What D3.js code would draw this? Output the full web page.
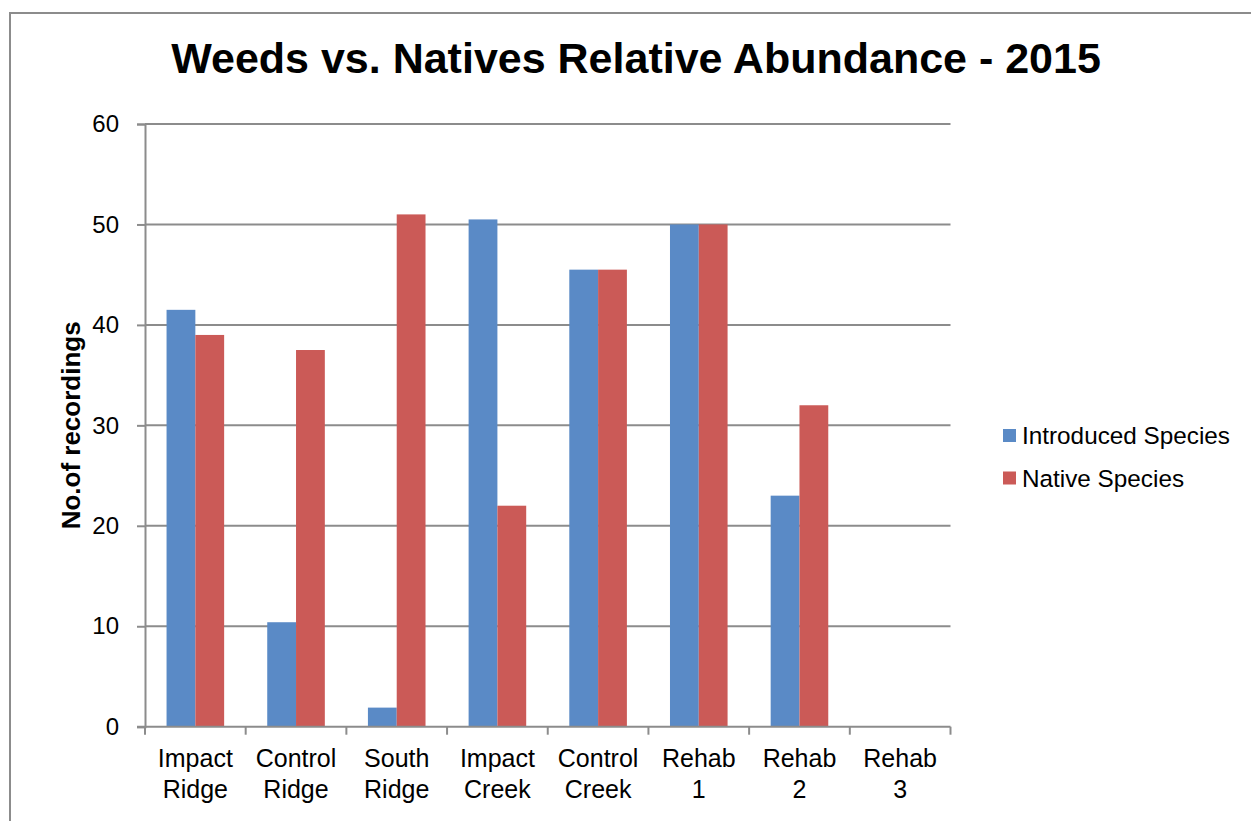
<!DOCTYPE html>
<html>
<head>
<meta charset="utf-8">
<script src="https://cdn.jsdelivr.net/npm/d3@7"></script>
<style>
  body { margin: 0; background: #fff; }
  svg { display: block; font-family: "Liberation Sans", Arial, sans-serif; }
</style>
</head>
<body>
<div id="chart"></div>
<script>
// data
var sites = ["Impact Ridge", "Control Ridge", "South Ridge", "Impact Creek", "Control Creek", "Rehab 1", "Rehab 2", "Rehab 3"];
var siteLines = [["Impact", "Ridge"], ["Control", "Ridge"], ["South", "Ridge"], ["Impact", "Creek"], ["Control", "Creek"], ["Rehab", "1"], ["Rehab", "2"], ["Rehab", "3"]];
var seriesNames = ["Introduced Species", "Native Species"];
var introduced = [41.5, 10.4, 1.9, 50.5, 45.5, 50, 23, 0];
var native = [39, 37.5, 51, 22, 45.5, 50, 32, 0];
var yTicks = [0, 10, 20, 30, 40, 50, 60];
var colors = ["#5a8ac6", "#cb5a57"];

var W = 1251, H = 821;
var margin = {left: 145, right: 300, top: 124, bottom: 94};
var FONT = "Liberation Sans, Arial, sans-serif";

var svg = d3.select("#chart").append("svg")
  .attr("width", W).attr("height", H);

// outer chart border (runs off right/bottom like the original crop)
svg.append("rect")
  .attr("x", 10).attr("y", 13)
  .attr("width", W + 20).attr("height", H + 20)
  .attr("fill", "#fff").attr("stroke", "#8c8c8c").attr("stroke-width", 2);

var plotL = margin.left, plotR = 950.5;
var x0 = d3.scaleBand().domain(sites).range([plotL, plotR]).paddingInner(0.428).paddingOuter(0.214);
var band = d3.scaleBand().domain(seriesNames).range([0, x0.bandwidth()]);
var y = d3.scaleLinear().domain([0, 60]).range([726.7, margin.top]);

// gridlines
svg.append("g").selectAll("line").data(yTicks.slice(1)).enter().append("line")
  .attr("x1", plotL).attr("x2", plotR)
  .attr("y1", function(d) { return y(d); }).attr("y2", function(d) { return y(d); })
  .attr("stroke", "#8c8c8c").attr("stroke-width", 2);

// bars
var data = sites.map(function(s, i) { return {site: s, vals: [introduced[i], native[i]]}; });
var groups = svg.append("g").selectAll("g").data(data).enter().append("g")
  .attr("transform", function(d) { return "translate(" + x0(d.site) + ",0)"; });
groups.selectAll("rect").data(function(d) { return d.vals.map(function(v, j) { return {name: seriesNames[j], v: v, j: j}; }); })
  .enter().append("rect")
  .attr("x", function(d) { return band(d.name); })
  .attr("width", band.bandwidth())
  .attr("y", function(d) { return y(d.v); })
  .attr("height", function(d) { return y(0) - y(d.v); })
  .attr("fill", function(d) { return colors[d.j]; });

// y axis
var yAxis = d3.axisLeft(y).tickValues(yTicks).tickSize(8).tickPadding(18);
var ya = svg.append("g").attr("transform", "translate(" + plotL + ",0)").call(yAxis);
ya.select(".domain").attr("stroke", "#8c8c8c").attr("stroke-width", 2);
ya.selectAll(".tick line").attr("stroke", "#8c8c8c").attr("stroke-width", 2);
ya.selectAll(".tick text").attr("font-size", "24px").attr("fill", "#000")
  .attr("font-family", FONT);

// x axis line with boundary ticks
var xa = svg.append("g");
xa.append("line").attr("x1", plotL - 8).attr("x2", plotR).attr("y1", y(0)).attr("y2", y(0))
  .attr("stroke", "#8c8c8c").attr("stroke-width", 2);
var bounds = sites.map(function(s) { return x0(s) - x0.step() * x0.paddingInner() / 2; });
bounds.push(plotR);
xa.selectAll(".xt").data(bounds).enter().append("line")
  .attr("x1", function(d) { return d; }).attr("x2", function(d) { return d; })
  .attr("y1", y(0)).attr("y2", y(0) + 8)
  .attr("stroke", "#8c8c8c").attr("stroke-width", 2);

var labels = xa.selectAll(".xl").data(siteLines).enter().append("text")
  .attr("text-anchor", "middle").attr("font-size", "25px").attr("fill", "#000");
labels.append("tspan").attr("x", function(d, i) { return x0(sites[i]) + x0.bandwidth() / 2; })
  .attr("y", 767).text(function(d) { return d[0]; });
labels.append("tspan").attr("x", function(d, i) { return x0(sites[i]) + x0.bandwidth() / 2; })
  .attr("y", 798).text(function(d) { return d[1]; });

// title
svg.append("text").attr("x", 636).attr("y", 73).attr("text-anchor", "middle")
  .attr("font-size", "43px").attr("font-weight", "bold").attr("fill", "#000")
  .text("Weeds vs. Natives Relative Abundance - 2015");

// y axis title
svg.append("text").attr("transform", "translate(80," + ((y(0) + y(60)) / 2) + ") rotate(-90)")
  .attr("text-anchor", "middle").attr("font-size", "26px").attr("font-weight", "bold").attr("fill", "#000")
  .text("No.of recordings");

// legend
var legend = svg.append("g").attr("transform", "translate(1003,0)");
var items = legend.selectAll("g").data(seriesNames).enter().append("g")
  .attr("transform", function(d, i) { return "translate(0," + (444 + i * 42.5) + ")"; });
items.append("rect").attr("x", 0).attr("y", -15).attr("width", 13).attr("height", 13)
  .attr("fill", function(d, i) { return colors[i]; });
items.append("text").attr("x", 19).attr("y", 0).attr("font-size", "24.3px").attr("fill", "#000")
  .text(function(d) { return d; });
</script>
</body>
</html>
